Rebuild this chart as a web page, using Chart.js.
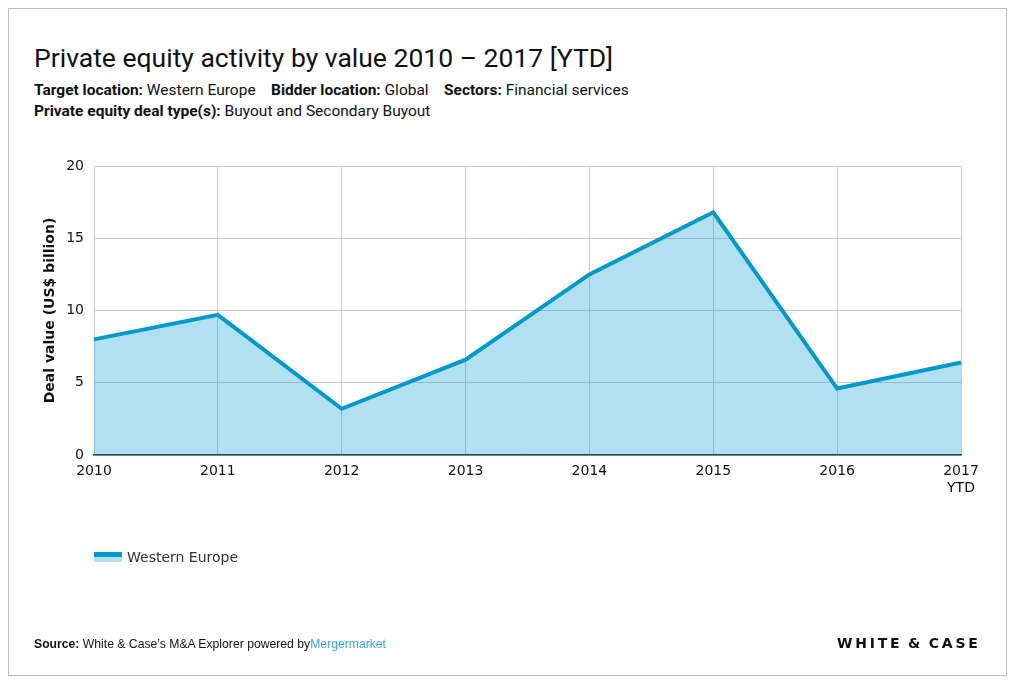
<!DOCTYPE html>
<html><head><meta charset="utf-8">
<script src="https://cdn.jsdelivr.net/npm/chart.js@4"></script>
<style>
html,body{margin:0;padding:0;background:#fff;}
body{width:1015px;height:684px;position:relative;overflow:hidden;font-family:Roboto,"Liberation Sans",sans-serif;color:#111;}
#frame{position:absolute;left:8px;top:8px;width:997px;height:666px;border:1px solid #bdbdbd;}
#title{position:absolute;left:34px;top:42px;font-size:26.5px;white-space:nowrap;color:#111;}
.sub{position:absolute;left:34px;font-size:15.5px;white-space:nowrap;color:#111;}
.sub b{font-weight:700;}
#c{position:absolute;left:0;top:0;}
#legend{position:absolute;left:94px;top:549px;font-family:"DejaVu Sans";font-size:14px;color:#333;white-space:nowrap;}
#legend .box{display:inline-block;width:28px;height:10px;vertical-align:middle;margin-right:5px;position:relative;top:-1px;background:linear-gradient(#0099cc 0,#0099cc 50%,#b3e0ef 50%,#b3e0ef 100%);}
#source{position:absolute;left:34px;top:637px;font-family:"Liberation Sans";font-size:12.2px;white-space:nowrap;color:#111;}
#logo{position:absolute;left:837px;top:635px;font-family:"DejaVu Sans";font-size:14px;letter-spacing:2.8px;font-weight:600;white-space:nowrap;color:#111;}
</style></head>
<body>
<div id="frame"></div>
<div id="title">Private equity activity by value 2010 – 2017 [YTD]</div>
<div class="sub" style="top:81px"><b>Target location:</b> Western Europe &nbsp;&nbsp;&nbsp;<b>Bidder location:</b> Global &nbsp;&nbsp;&nbsp;<b>Sectors:</b> Financial services</div>
<div class="sub" style="top:102px"><b>Private equity deal type(s):</b> Buyout and Secondary Buyout</div>
<canvas id="c" width="1015" height="684"></canvas>
<div id="legend"><span class="box"></span>Western Europe</div>
<div id="source"><b>Source:</b> White &amp; Case’s M&amp;A Explorer powered by<span style="color:#3aa6d6">Mergermarket</span></div>
<div id="logo">WHITE&thinsp;&amp;&thinsp;CASE</div>
<script>
const categories = ["2010","2011","2012","2013","2014","2015","2016",["2017","YTD"]];
const westernEurope = [8.0, 9.7, 3.2, 6.6, 12.5, 16.8, 4.6, 6.4];
const yTicks = [0, 5, 10, 15, 20];
const seriesName = "Western Europe";
const yTitle = "Deal value (US$ billion)";

const canvas = document.getElementById('c');
new Chart(canvas, {
  type: 'line',
  data: {
    labels: categories,
    datasets: [{
      label: seriesName,
      data: westernEurope,
      borderColor: '#0099cc',
      backgroundColor: 'rgba(0,153,204,0.30)',
      borderWidth: 4,
      fill: 'origin',
      pointRadius: 0,
      tension: 0,
      borderJoinStyle: 'miter'
    }]
  },
  options: {
    responsive: false,
    animation: false,
    devicePixelRatio: 1,
    layout: { padding: { left: 42, top: 166, right: 54, bottom: 169 } },
    plugins: { legend: { display: false }, tooltip: { enabled: false } },
    scales: {
      x: {
        offset: false,
        grid: { color: '#cccccc', lineWidth: 1, drawTicks: false },
        border: { color: '#333333', width: 1.5 },
        ticks: { color: '#111', font: { family: 'DejaVu Sans', size: 14 }, padding: 8, maxRotation: 0, autoSkip: false },
        afterFit: s => { s.height = 60; }
      },
      y: {
        min: 0, max: 20,
        afterBuildTicks: s => { s.ticks = yTicks.map(v => ({ value: v })); },
        grid: { color: '#cccccc', lineWidth: 1, drawTicks: false },
        border: { display: false },
        ticks: { color: '#111', font: { family: 'DejaVu Sans', size: 14 }, padding: 10 },
        title: { display: true, text: yTitle, color: '#111', font: { family: 'DejaVu Sans', size: 14, weight: 'bold' }, padding: { top: 0, bottom: 0 } },
        afterFit: s => { s.width = 52; }
      }
    }
  }
});
</script>
</body></html>
